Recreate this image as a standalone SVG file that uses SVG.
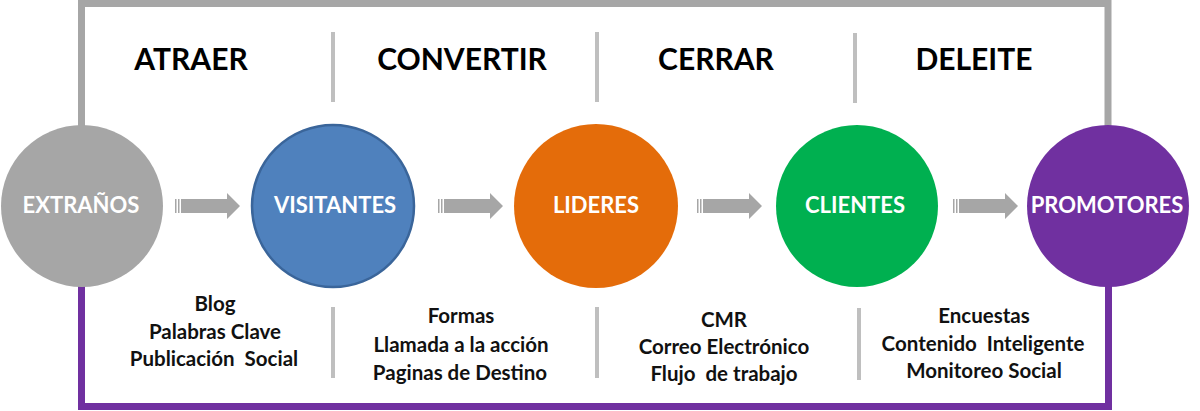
<svg xmlns="http://www.w3.org/2000/svg" width="1200" height="411" viewBox="0 0 1200 411">
<defs>
<style>
.frame{fill:none;stroke-width:7;stroke-linejoin:miter}
.sep{stroke:#bfbfbf;stroke-width:4}
.title{font-family:Lato,"Open Sans",sans-serif;font-weight:bold;font-size:30px;fill:#000;text-anchor:middle}
.lbl{font-family:Lato,"Open Sans",sans-serif;font-weight:bold;font-size:22px;fill:#fff;text-anchor:middle}
.item{font-family:Lato,"Open Sans",sans-serif;font-weight:bold;font-size:20.5px;fill:#111;text-anchor:middle}
.arr{fill:#a6a6a6}
</style>
<g id="arrowShape">
<rect x="0" y="199" width="1.5" height="14"/>
<rect x="3" y="199" width="1.5" height="14"/>
<path d="M6,199 H52 V193 L65,206 L52,219 V213 H6 Z"/>
</g>
</defs>
<g id="frame">
<path class="frame" stroke="#a6a6a6" d="M81.5,130 V3.5 H1108 V130"/>
<path class="frame" stroke="#7030a0" d="M81.5,280 V406.5 H1108.5 V280"/>
</g>
<g id="separators">
<line class="sep" x1="333" y1="32" x2="333" y2="102"/>
<line class="sep" x1="597" y1="32" x2="597" y2="102"/>
<line class="sep" x1="855" y1="33" x2="855" y2="103"/>
<line class="sep" x1="333" y1="307" x2="333" y2="378"/>
<line class="sep" x1="597" y1="307" x2="597" y2="378"/>
<line class="sep" x1="859" y1="308" x2="859" y2="380"/>
</g>
<g id="titles">
<text class="title" x="191" y="70">ATRAER</text>
<text class="title" x="462" y="70">CONVERTIR</text>
<text class="title" x="716" y="70">CERRAR</text>
<text class="title" x="974" y="70">DELEITE</text>
</g>
<g id="connectors" class="arr">
<use href="#arrowShape" x="175"/>
<use href="#arrowShape" x="438"/>
<use href="#arrowShape" x="697"/>
<use href="#arrowShape" x="953"/>
</g>
<g id="extranos">
<circle cx="82" cy="206" r="81" fill="#a6a6a6"/>
<text class="lbl" x="81" y="213">EXTRAÑOS</text>
</g>
<g id="visitantes">
<circle cx="333" cy="206" r="81" fill="#4f81bd" stroke="#3a659a" stroke-width="2.5"/>
<text class="lbl" x="335" y="213">VISITANTES</text>
</g>
<g id="lideres">
<circle cx="596" cy="206" r="82" fill="#e46c0a"/>
<text class="lbl" x="596" y="213">LIDERES</text>
</g>
<g id="clientes">
<circle cx="857" cy="206" r="81" fill="#00b050"/>
<text class="lbl" x="855" y="213">CLIENTES</text>
</g>
<g id="promotores">
<circle cx="1108" cy="206" r="81" fill="#7030a0"/>
<text class="lbl" x="1107" y="213" font-size="21.5">PROMOTORES</text>
</g>
<g id="atraer-items">
<text class="item" x="215" y="311">Blog</text>
<text class="item" x="215" y="339">Palabras Clave</text>
<text class="item" x="214" y="366" xml:space="preserve">Publicación  Social</text>
</g>
<g id="convertir-items">
<text class="item" x="461" y="323">Formas</text>
<text class="item" x="461" y="352">Llamada a la acción</text>
<text class="item" x="460" y="380">Paginas de Destino</text>
</g>
<g id="cerrar-items">
<text class="item" x="724" y="327">CMR</text>
<text class="item" x="724" y="354">Correo Electrónico</text>
<text class="item" x="724" y="381" xml:space="preserve">Flujo  de trabajo</text>
</g>
<g id="deleite-items">
<text class="item" x="984" y="323">Encuestas</text>
<text class="item" x="983" y="351" xml:space="preserve">Contenido  Inteligente</text>
<text class="item" x="984" y="378">Monitoreo Social</text>
</g>
</svg>
